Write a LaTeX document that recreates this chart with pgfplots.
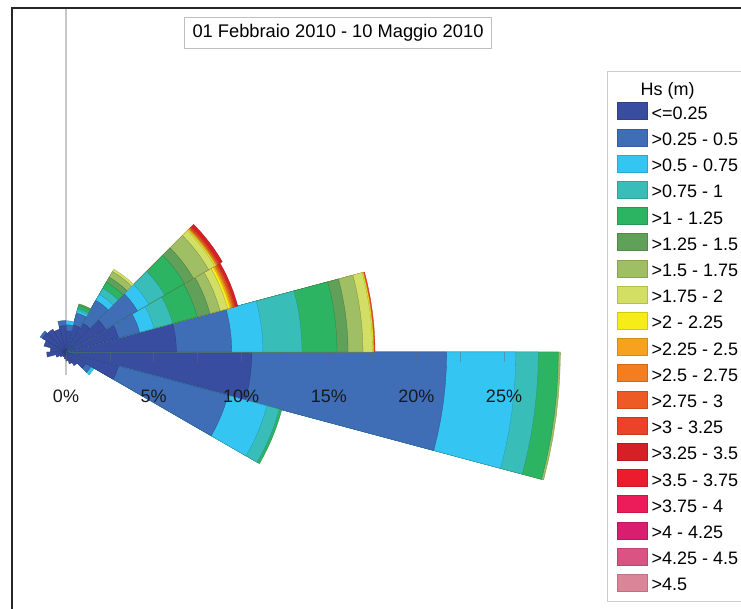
\documentclass[border=0pt]{standalone}
\usepackage{pgfplots}
\pgfplotsset{compat=1.18}
\usepackage{fontspec}
\setmainfont{Liberation Sans}

\definecolor{b1}{RGB}{56,77,160}
\definecolor{b2}{RGB}{63,110,182}
\definecolor{b3}{RGB}{52,197,242}
\definecolor{b4}{RGB}{57,189,185}
\definecolor{b5}{RGB}{45,180,98}
\definecolor{b6}{RGB}{96,160,88}
\definecolor{b7}{RGB}{160,190,100}
\definecolor{b8}{RGB}{211,222,100}
\definecolor{b9}{RGB}{245,236,25}
\definecolor{b10}{RGB}{247,162,30}
\definecolor{b11}{RGB}{244,125,32}
\definecolor{b12}{RGB}{238,90,36}
\definecolor{b13}{RGB}{235,67,40}
\definecolor{b14}{RGB}{214,32,39}
\definecolor{b15}{RGB}{236,28,46}
\definecolor{b16}{RGB}{236,27,90}
\definecolor{b17}{RGB}{216,31,111}
\definecolor{b18}{RGB}{219,83,131}
\definecolor{b19}{RGB}{219,133,153}

\newcommand\fs{\fontsize{18}{21}\selectfont}

% one direction sector: #1 = start angle (deg), #2 = colour/cumulative % list, outermost first
\newcommand\sect[2]{%
  \pgfmathsetmacro\aA{#1}%
  \pgfmathsetmacro\aB{#1+2.5}%
  \pgfmathsetmacro\aC{#1+5}%
  \pgfmathsetmacro\aD{#1+7.5}%
  \pgfmathsetmacro\aE{#1+10}%
  \pgfmathsetmacro\aF{#1+12.5}%
  \pgfmathsetmacro\aG{#1+15}%
  \foreach \cc/\rr in {#2}{%
    \edef\temp{\noexpand\addplot[fill=\cc, draw=\cc!75!black, line width=0.3pt, data cs=polar, forget plot] coordinates {(\aA,0) (\aA,\rr) (\aB,\rr) (\aC,\rr) (\aD,\rr) (\aE,\rr) (\aF,\rr) (\aG,\rr) (\aG,0)};}%
    \temp
  }%
}

\begin{document}
\begin{tikzpicture}
\path[use as bounding box] (-66pt,-257pt) rectangle (675pt,352pt);
% frame
\draw[black!85, line width=1.6pt] (-54pt,-260pt) -- (-54pt,344pt) -- (680pt,344pt);

\begin{axis}[
  anchor=origin, at={(0pt,0pt)},
  x=17.52pt, y=17.52pt,
  xmin=-3.767, xmax=38.53, ymin=-14.67, ymax=20.09,
  axis x line=middle, axis y line=none,
  x axis line style={draw=none},
  xtick={0,5,10,15,20,25},
  xticklabels={0\%,5\%,10\%,15\%,20\%,25\%},
  minor xtick={2.5,7.5,12.5,17.5,22.5},
  ytick=\empty,
  hide obscured x ticks=false,
  tick align=outside,
  major tick length=10pt, minor tick length=10pt,
  tick style={draw=black!60, opacity=0.45, line width=0.6pt},
  xticklabel style={font=\fs, text=black!90, anchor=base, yshift=-41pt},
  axis on top,
  clip=false,
  legend cell align=left,
  legend image code/.code={\draw[#1] (0pt,-6.8pt) rectangle (30pt,10.2pt);},
  legend style={at={(axis cs:30.88,16.04)}, anchor=north west,
    draw=black!20, fill=white, inner xsep=10pt, inner ysep=9.5pt,
    row sep=8.8pt, column sep=4pt, font=\fs,
    nodes={inner sep=0pt, text height=13pt, text depth=0pt}},
]
\addlegendimage{empty legend}
\addlegendentry{\hspace*{-11pt}\raisebox{-2.1pt}{Hs (m)}}
\addlegendimage{fill=b1, draw=b1!85!black}\addlegendentry{<=0.25}
\addlegendimage{fill=b2, draw=b2!85!black}\addlegendentry{>0.25 - 0.5}
\addlegendimage{fill=b3, draw=b3!85!black}\addlegendentry{>0.5 - 0.75}
\addlegendimage{fill=b4, draw=b4!85!black}\addlegendentry{>0.75 - 1}
\addlegendimage{fill=b5, draw=b5!85!black}\addlegendentry{>1 - 1.25}
\addlegendimage{fill=b6, draw=b6!85!black}\addlegendentry{>1.25 - 1.5}
\addlegendimage{fill=b7, draw=b7!85!black}\addlegendentry{>1.5 - 1.75}
\addlegendimage{fill=b8, draw=b8!85!black}\addlegendentry{>1.75 - 2}
\addlegendimage{fill=b9, draw=b9!85!black}\addlegendentry{>2 - 2.25}
\addlegendimage{fill=b10, draw=b10!85!black}\addlegendentry{>2.25 - 2.5}
\addlegendimage{fill=b11, draw=b11!85!black}\addlegendentry{>2.5 - 2.75}
\addlegendimage{fill=b12, draw=b12!85!black}\addlegendentry{>2.75 - 3}
\addlegendimage{fill=b13, draw=b13!85!black}\addlegendentry{>3 - 3.25}
\addlegendimage{fill=b14, draw=b14!85!black}\addlegendentry{>3.25 - 3.5}
\addlegendimage{fill=b15, draw=b15!85!black}\addlegendentry{>3.5 - 3.75}
\addlegendimage{fill=b16, draw=b16!85!black}\addlegendentry{>3.75 - 4}
\addlegendimage{fill=b17, draw=b17!85!black}\addlegendentry{>4 - 4.25}
\addlegendimage{fill=b18, draw=b18!85!black}\addlegendentry{>4.25 - 4.5}
\addlegendimage{fill=b19, draw=b19!85!black}\addlegendentry{>4.5}

% vertical reference line
\addplot[black!22, line width=1.2pt, forget plot] coordinates {(0,-1.3) (0,19.55)};

% sectors: start angle, then Hs class colour / cumulative frequency (%)
\sect{-15}{b7/28.22, b5/28.1, b4/26.96, b3/25.68, b2/21.73, b1/10.6}
\sect{0}{b13/17.64, b9/17.56, b8/17.5, b7/16.95, b6/16.1, b5/15.47, b4/13.47, b3/11.24, b2/9.46, b1/6.3}
\sect{15}{b14/10.15, b13/10.0, b12/9.93, b11/9.87, b10/9.8, b9/9.7, b8/9.55, b7/9.1, b6/8.5, b5/7.75, b4/6.3, b3/5.2, b2/4.35, b1/3.1}
\sect{30}{b14/10.3, b13/10.1, b12/10.03, b11/9.98, b10/9.93, b9/9.87, b8/9.8, b7/9.4, b6/8.4, b5/7.8, b4/6.5, b3/5.45, b2/4.7, b1/2.6}
\sect{45}{b8/5.45, b7/5.3, b6/4.93, b5/4.6, b4/4.2, b3/3.8, b2/3.4, b1/1.9}
\sect{60}{b6/2.84, b5/2.75, b4/2.55, b3/2.45, b2/2.3, b1/1.6}
\sect{75}{b3/1.78, b2/1.55, b1/1.2}
\sect{90}{b2/1.8, b1/1.5}
\sect{105}{b1/1.35}
\sect{120}{b1/1.5}
\sect{135}{b2/1.7, b1/1.55}
\sect{150}{b1/1.3}
\sect{165}{b1/0.9}
\sect{180}{b1/1.1}
\sect{195}{b1/0.6}
\sect{210}{b1/0.4}
\sect{225}{b1/0.3}
\sect{240}{b1/0.3}
\sect{255}{b1/0.4}
\sect{270}{b1/0.5}
\sect{285}{b1/0.7}
\sect{300}{b1/0.9}
\sect{315}{b3/1.85, b2/1.65, b1/1.3}
\sect{330}{b5/12.75, b4/12.6, b3/11.87, b2/9.57, b1/3.1}
\end{axis}

% title box
\node[draw=black!25, fill=white, minimum width=307pt, minimum height=31pt, inner sep=0pt, font=\fontsize{18.3}{21}\selectfont] at (272pt,319pt) {01 Febbraio 2010 - 10 Maggio 2010};
\end{tikzpicture}
\end{document}
